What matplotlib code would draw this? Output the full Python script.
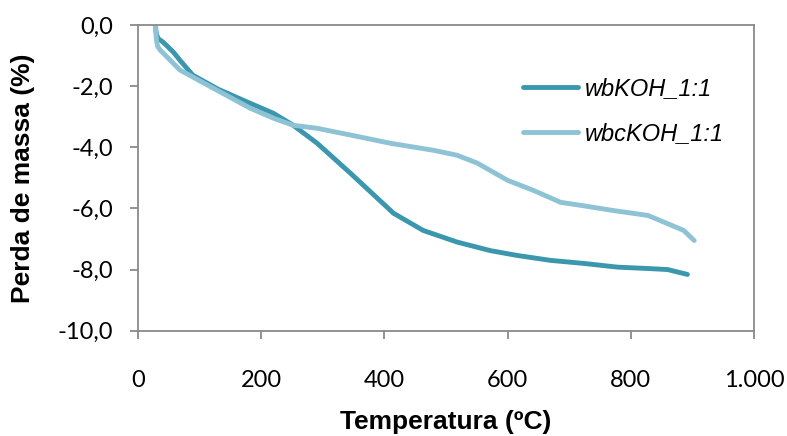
#!/usr/bin/env python3
import matplotlib
matplotlib.use('Agg')
import matplotlib.pyplot as plt

# TGA curves
temp_wb = [28, 30, 33, 40, 47, 58, 68, 89, 130, 182, 220, 252, 291, 345, 415,
           463, 518, 572, 616, 670, 724, 778, 832, 860, 892]
mass_wb = [0.0, -0.3, -0.45, -0.55, -0.68, -0.9, -1.15, -1.64, -2.1, -2.56,
           -2.89, -3.28, -3.87, -4.85, -6.16, -6.72, -7.1, -7.38, -7.54, -7.7,
           -7.8, -7.92, -7.97, -8.0, -8.16]

temp_wbc = [28, 30, 32, 36, 44, 68, 96, 128, 182, 220, 252, 291, 345, 410,
            480, 518, 551, 600, 642, 686, 719, 772, 828, 860, 886, 903]
mass_wbc = [0.0, -0.5, -0.7, -0.82, -0.98, -1.47, -1.78, -2.13, -2.72, -3.05,
            -3.28, -3.38, -3.6, -3.87, -4.1, -4.26, -4.52, -5.08, -5.41, -5.8,
            -5.9, -6.07, -6.23, -6.5, -6.72, -7.05]

labels = ['wbKOH_1:1', 'wbcKOH_1:1']
colors = ['#3a97ad', '#8ec3d6']

xticks = [0, 200, 400, 600, 800, 1000]
xticklabels = ['0', '200', '400', '600', '800', '1.000']
yticks = [0, -2, -4, -6, -8, -10]
yticklabels = ['0,0', '-2,0', '-4,0', '-6,0', '-8,0', '-10,0']

fig = plt.figure(figsize=(7.87, 4.36), dpi=100)
ax = fig.add_axes([0.1753, 0.2415, 0.7827, 0.7012])

ax.plot(temp_wb, mass_wb, color=colors[0], lw=3.5, label=labels[0],
        solid_capstyle='round', solid_joinstyle='round')
ax.plot(temp_wbc, mass_wbc, color=colors[1], lw=3.5, label=labels[1],
        solid_capstyle='round', solid_joinstyle='round')

ax.set_xlim(0, 1000)
ax.set_ylim(-10, 0)
ax.set_xticks(xticks)
ax.set_xticklabels(xticklabels)
ax.set_yticks(yticks)
ax.set_yticklabels(yticklabels)

for s in ax.spines.values():
    s.set_color('#8a8a8a')
    s.set_linewidth(1.3)
ax.tick_params(axis='both', direction='out', length=6, width=1.3,
               color='#8a8a8a', labelsize=17)
ax.tick_params(axis='x', pad=22)
ax.tick_params(axis='y', pad=12)
for t in ax.get_xticklabels() + ax.get_yticklabels():
    t.set_family('Lato')

ax.set_xlabel('Temperatura (ºC)', fontsize=19, fontweight='bold',
              family='Liberation Sans', labelpad=14)
ax.set_ylabel('Perda de massa (%)', fontsize=19, fontweight='bold',
              family='Liberation Sans', labelpad=16)

leg = ax.legend(loc='upper left', bbox_to_anchor=(0.591, 0.9), frameon=False,
                prop={'family': 'Liberation Sans', 'style': 'italic', 'size': 17},
                handlelength=2.3, handletextpad=0.3, labelspacing=0.95)

plt.savefig('out.png', dpi=100)
